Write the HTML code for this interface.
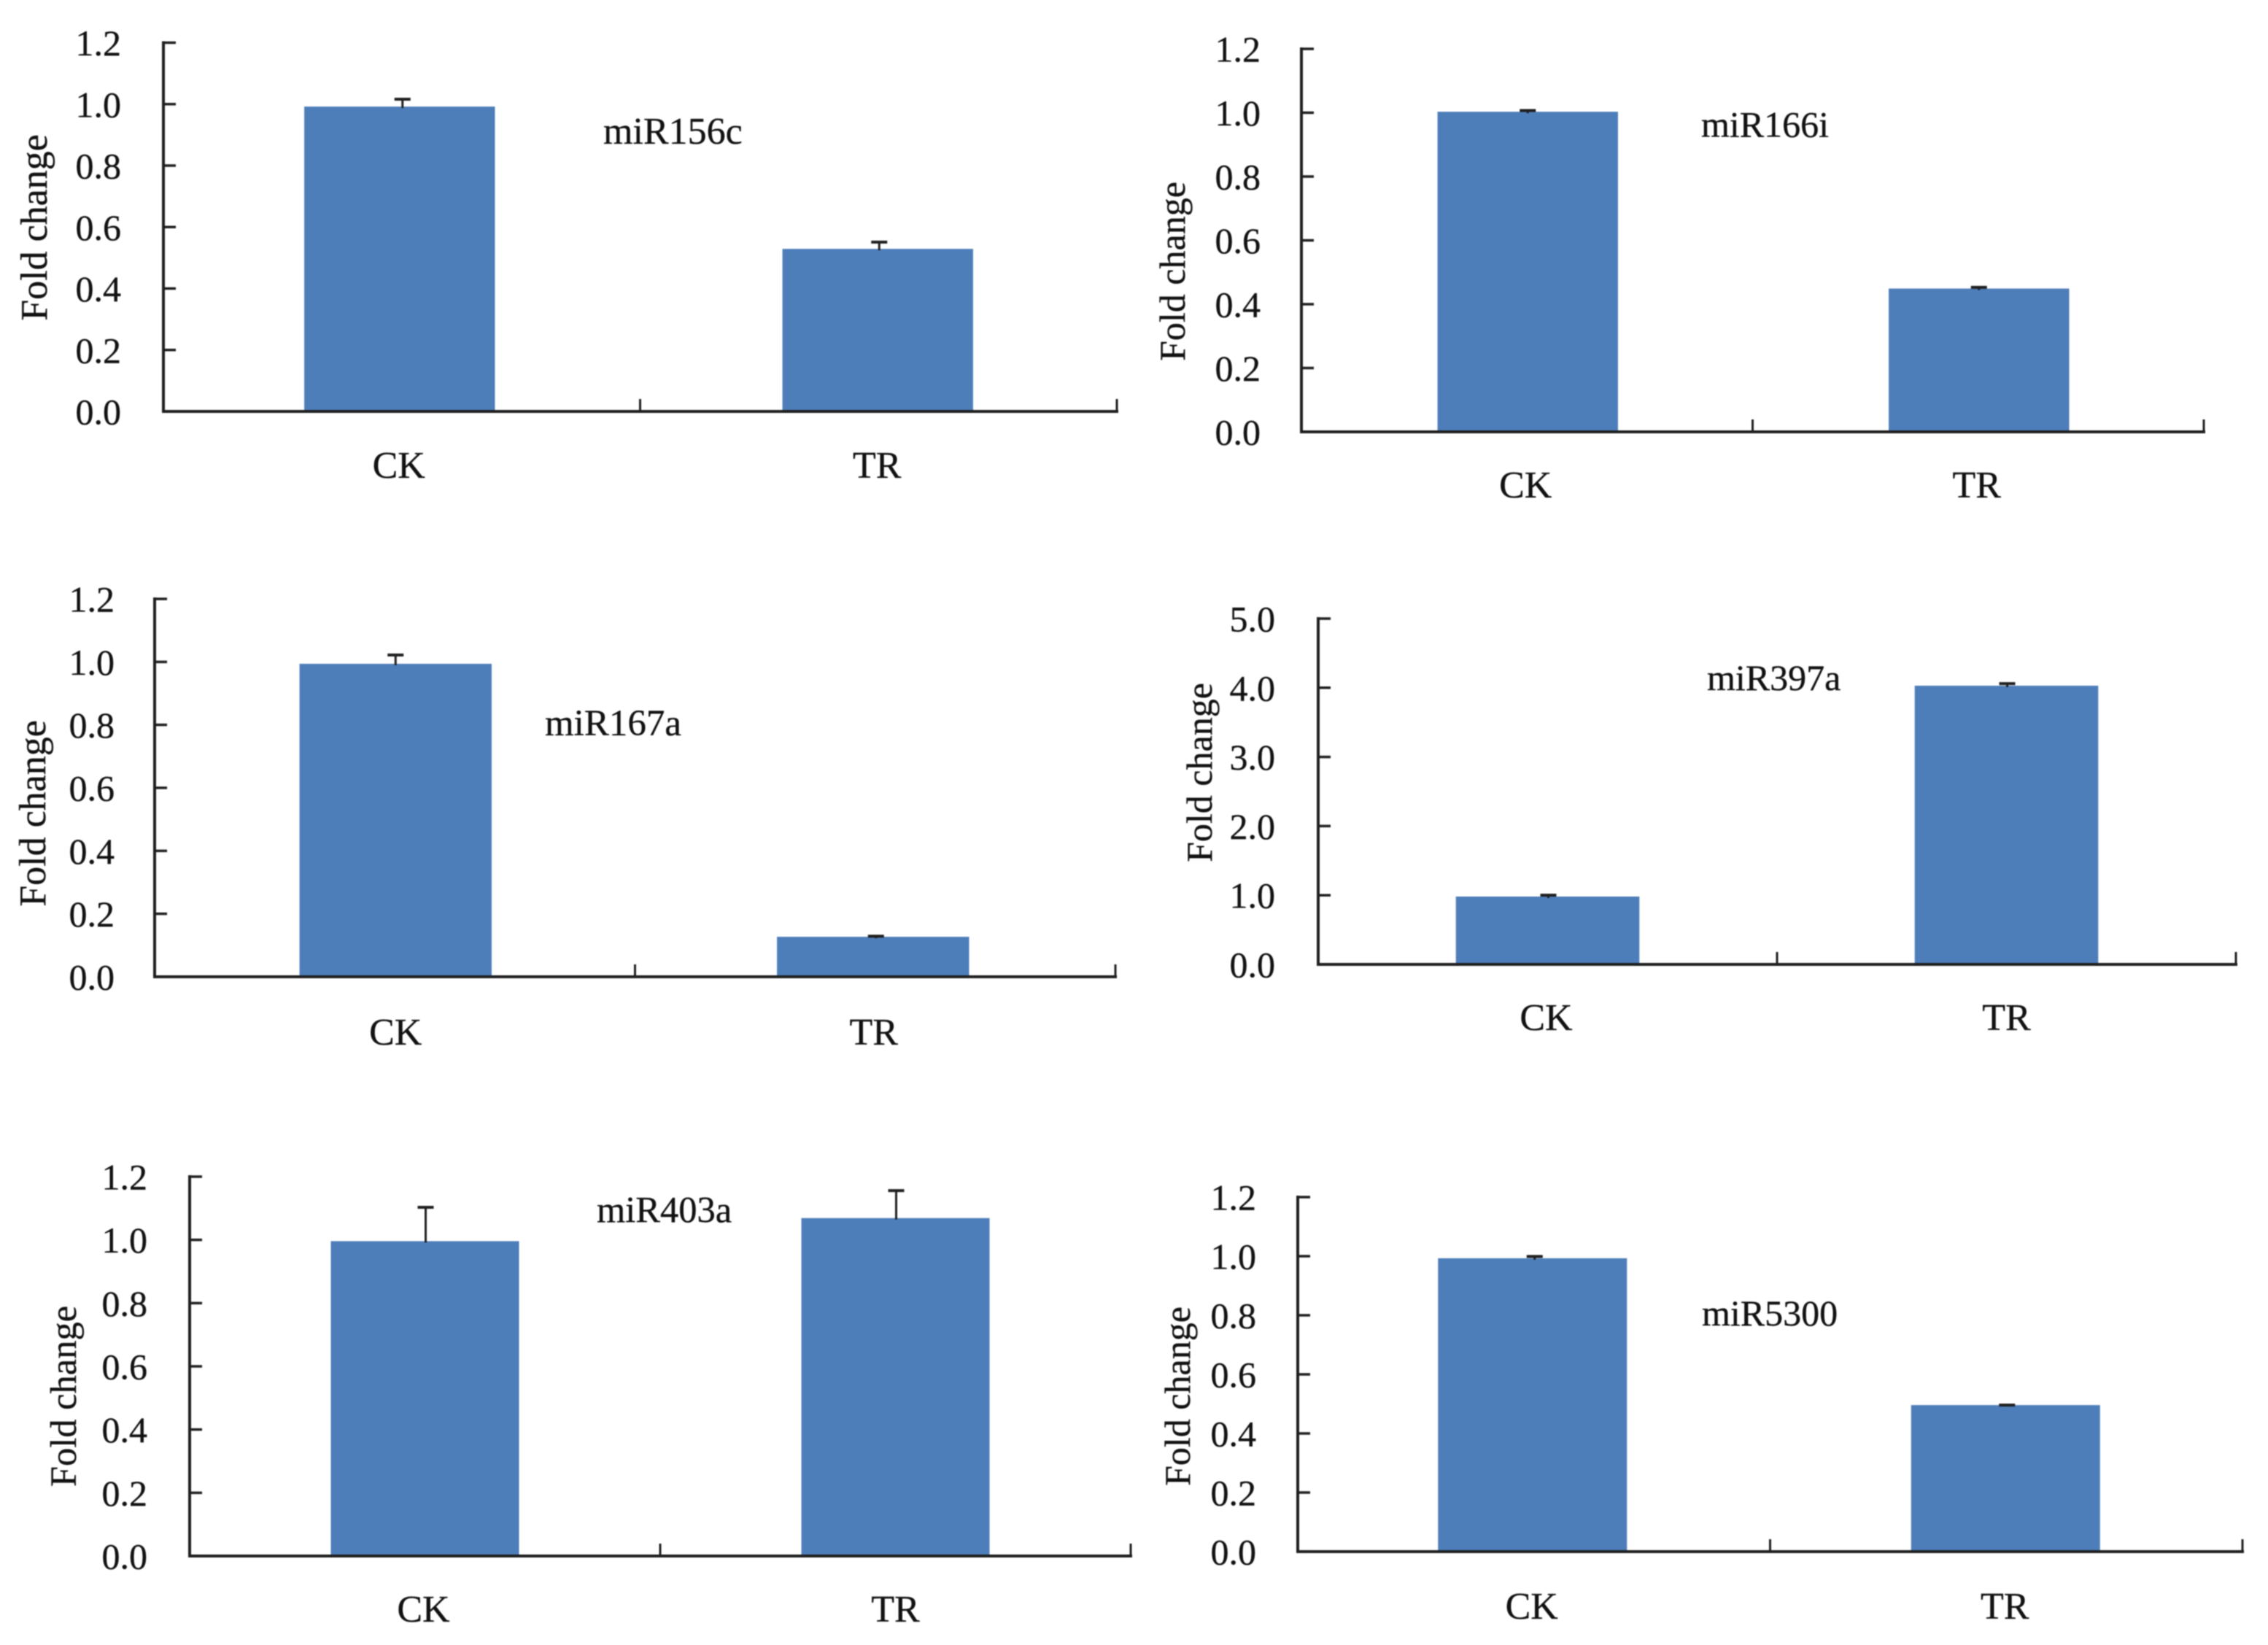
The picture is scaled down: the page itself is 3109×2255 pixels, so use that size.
<!DOCTYPE html>
<html lang="en">
<head>
<meta charset="utf-8">
<title>miRNA fold change bar charts</title>
<style>
  html, body { margin: 0; padding: 0; background: #fff; }
  #figure { display: block; width: 3109px; height: 2255px; filter: blur(0.8px); }
  text { font-family: "Liberation Serif", "Times New Roman", serif; fill: #111; stroke: #111; stroke-width: 0.35px; }
</style>
</head>
<body>
<svg id="figure" xmlns="http://www.w3.org/2000/svg" width="3109" height="2255" viewBox="0 0 3109 2255"></svg>
<script>
// ---- chart data ----
const categories = ['CK', 'TR'];
const panelNames = ['miR156c', 'miR166i', 'miR167a', 'miR397a', 'miR403a', 'miR5300'];
const axisMaxima = [1.2, 1.2, 1.2, 5, 1.2, 1.2];
const tickLabelsFine = ['0.0', '0.2', '0.4', '0.6', '0.8', '1.0', '1.2'];
const tickLabelsWide = ['0.0', '1.0', '2.0', '3.0', '4.0', '5.0'];
const miR156cMeans = [0.992, 0.529];
const miR156cErrors = [0.024, 0.022];
const miR166iMeans = [1.003, 0.449];
const miR166iErrors = [0.004, 0.004];
const miR167aMeans = [0.994, 0.127];
const miR167aErrors = [0.028, 0.002];
const miR397aMeans = [0.981, 4.03];
const miR397aErrors = [0.02, 0.03];
const miR403aMeans = [0.996, 1.069];
const miR403aErrors = [0.107, 0.087];
const miR5300Means = [0.993, 0.496];
const miR5300Errors = [0.006, 0];
const axisTitle = 'Fold change';

// ---- layout (pixels) ----
const layouts = [
  { left: 224,  right: 1531, top: 58.5, bottom: 564,  labelX: 827,  labelY: 197,   labelSize: 52,   titleX: 64,   titleY: 312,  titleSize: 52, gap: 58, catY: 655,  barShift: [-3, -1], catShift: [-2, 0] },
  { left: 1784, right: 3021, top: 67,   bottom: 592,  labelX: 2332, labelY: 187.5, labelSize: 50,   titleX: 1624, titleY: 372,  titleSize: 50, gap: 56, catY: 682,  barShift: [1, 1],   catShift: [0, 0] },
  { left: 212,  right: 1529, top: 821,  bottom: 1339, labelX: 747,  labelY: 1008,  labelSize: 51,   titleX: 62,   titleY: 1115, titleSize: 52, gap: 55, catY: 1432, barShift: [1, -3],  catShift: [3, 0] },
  { left: 1807, right: 3065, top: 848,  bottom: 1322, labelX: 2340, labelY: 946,   labelSize: 50,   titleX: 1661, titleY: 1059, titleSize: 50, gap: 59, catY: 1412, barShift: [0, 0],   catShift: [0, 2] },
  { left: 260,  right: 1550, top: 1613, bottom: 2133, labelX: 818,  labelY: 1675.5,labelSize: 50.5, titleX: 104,  titleY: 1914, titleSize: 50.5, gap: 58, catY: 2223, barShift: [0, 0], catShift: [0, 2] },
  { left: 1779, right: 3074, top: 1641, bottom: 2127, labelX: 2333, labelY: 1817,  labelSize: 50,   titleX: 1631, titleY: 1914, titleSize: 50, gap: 57, catY: 2219, barShift: [-2, -1], catShift: [-1, 0] }
];
const panelMeans = [miR156cMeans, miR166iMeans, miR167aMeans, miR397aMeans, miR403aMeans, miR5300Means];
const panelErrors = [miR156cErrors, miR166iErrors, miR167aErrors, miR397aErrors, miR403aErrors, miR5300Errors];
const panelTicks = [tickLabelsFine, tickLabelsFine, tickLabelsFine, tickLabelsWide, tickLabelsFine, tickLabelsFine];

const SVG_NS = 'http://www.w3.org/2000/svg';
const root = document.getElementById('figure');
const INK = '#1f1f1f';
const BAR = '#4e7eb9';

function make(tag, parent, attrs, content) {
  const node = document.createElementNS(SVG_NS, tag);
  Object.keys(attrs).forEach(function (k) { node.setAttribute(k, attrs[k]); });
  if (content !== undefined) node.textContent = content;
  parent.appendChild(node);
  return node;
}

panelNames.forEach(function (name, p) {
  const L = layouts[p];
  const maxV = axisMaxima[p];
  const means = panelMeans[p];
  const errors = panelErrors[p];
  const band = (L.right - L.left) / categories.length;
  const yScale = function (v) { return L.bottom - (v / maxV) * (L.bottom - L.top); };
  const xCenter = function (i) { return L.left + band * (i + 0.5); };
  const barW = band * 0.4;

  const group = make('g', root, {});
  
  

  // bars
  categories.forEach(function (cat, i) {
    const bar = make('rect', group, {
      x: xCenter(i) + L.barShift[i] - barW / 2,
      y: yScale(means[i]),
      width: barW,
      height: L.bottom - yScale(means[i]),
      fill: BAR
    });
    
    

    const errTop = yScale(means[i] + errors[i]);
    const stem = make('line', group, {
      x1: xCenter(i) + 1, x2: xCenter(i) + 1,
      y1: yScale(means[i]) + 2, y2: errTop,
      stroke: INK, 'stroke-width': 3
    });
    
    

    const cap = make('line', group, {
      x1: xCenter(i) - 10, x2: xCenter(i) + 12,
      y1: errTop, y2: errTop,
      stroke: INK, 'stroke-width': 4
    });
    
    

    const catLabel = make('text', group, {
      x: xCenter(i) - 2 + L.catShift[i],
      y: L.catY,
      'text-anchor': 'middle',
      'font-size': 52
    }, cat);
    
    
  });

  // axes
  const yAxis = make('line', group, {
    x1: L.left, x2: L.left, y1: L.top - 2, y2: L.bottom + 2,
    stroke: INK, 'stroke-width': 4
  });
  
  

  const xAxis = make('line', group, {
    x1: L.left - 2, x2: L.right + 2, y1: L.bottom, y2: L.bottom,
    stroke: INK, 'stroke-width': 4
  });
  
  

  // y ticks + labels
  panelTicks[p].forEach(function (label) {
    const v = parseFloat(label);
    const tick = make('line', group, {
      x1: L.left, x2: L.left + 17, y1: yScale(v), y2: yScale(v),
      stroke: INK, 'stroke-width': 3.5
    });
    
    

    const tickText = make('text', group, {
      x: L.left - L.gap,
      y: yScale(v) + 17.5,
      'text-anchor': 'end',
      'font-size': 50
    }, label);
    
    
  });

  // x ticks (category separators)
  for (let k = 1; k <= categories.length; k++) {
    const xt = L.left + band * k;
    const xTick = make('line', group, {
      x1: xt, x2: xt, y1: L.bottom, y2: L.bottom - 17,
      stroke: INK, 'stroke-width': 3
    });
    
    
  }

  // y axis title
  const title = make('text', group, {
    x: L.titleX,
    y: L.titleY,
    'text-anchor': 'middle',
    'font-size': L.titleSize,
    transform: 'rotate(-90 ' + L.titleX + ' ' + L.titleY + ')'
  }, axisTitle);
  
  

  // panel label
  const label = make('text', group, {
    x: L.labelX,
    y: L.labelY,
    'font-size': L.labelSize
  }, name);
  
  
});
</script>
</body>
</html>
